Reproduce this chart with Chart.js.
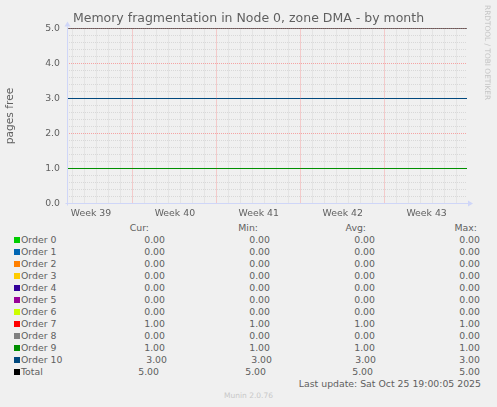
<!DOCTYPE html>
<html>
<head>
<meta charset="utf-8">
<script src="https://cdn.jsdelivr.net/npm/chart.js@4.4.0/dist/chart.umd.min.js"></script>
<style>
body { margin: 0; background: #f0f0f0; font-family: 'DejaVu Sans', sans-serif; color: #666; }
#wrap { position: relative; width: 497px; height: 407px; overflow: hidden; }
#myChart { position: absolute; left: 0; top: 0; }
.t { position: absolute; font-size: 9.33px; line-height: 12px; white-space: nowrap; color: #606060; }
.sw { position: absolute; width: 6px; height: 6px; }
#rrd { position: absolute; left: 483px; top: 5px; font-size: 7.4px; color: #c4c4c4; white-space: nowrap; transform-origin: 0 0; transform: translate(9px, 0) rotate(90deg); }
#munin { position: absolute; left: 0; width: 497px; top: 391px; text-align: center; font-size: 7.5px; color: #c8c8c8; }
</style>
</head>
<body>
<div id="wrap">
  <canvas id="myChart" width="497" height="220"></canvas>
  <div id="rrd">RRDTOOL / TOBI OETIKER</div>
  <div id="legend"></div>
  <div id="munin">Munin 2.0.76</div>
</div>
<script>
'use strict';

// x axis is in days, day 0 = start of week 40
let xMin = -5.5;
let xMax = 27.87;
let sampleDays = [-5.5, 0, 7, 14, 21, 27.87];

let weekLabels = ['Week 39', 'Week 40', 'Week 41', 'Week 42', 'Week 43'];
let weekStarts = [-7, 0, 7, 14, 21];

let yTickLabels = ['0.0', '1.0', '2.0', '3.0', '4.0', '5.0'];

let orderNames = ['Order 0', 'Order 1', 'Order 2', 'Order 3', 'Order 4', 'Order 5',
  'Order 6', 'Order 7', 'Order 8', 'Order 9', 'Order 10'];
let orderColors = ['#00CC00', '#0066B3', '#FF8000', '#FFCC00', '#330099', '#990099',
  '#CCFF00', '#FF0000', '#808080', '#008F00', '#00487D'];

let order0 = [0, 0, 0, 0, 0, 0];
let order1 = [0, 0, 0, 0, 0, 0];
let order2 = [0, 0, 0, 0, 0, 0];
let order3 = [0, 0, 0, 0, 0, 0];
let order4 = [0, 0, 0, 0, 0, 0];
let order5 = [0, 0, 0, 0, 0, 0];
let order6 = [0, 0, 0, 0, 0, 0];
let order7 = [1, 1, 1, 1, 1, 1];
let order8 = [0, 0, 0, 0, 0, 0];
let order9 = [1, 1, 1, 1, 1, 1];
let order10 = [3, 3, 3, 3, 3, 3];
let totalValues = [5, 5, 5, 5, 5, 5];

let orderSeries = [order0, order1, order2, order3, order4, order5, order6, order7, order8, order9, order10];

let lastUpdate = 'Last update: Sat Oct 25 19:00:05 2025';

function isWhole(v){
  return Math.abs(v - Math.round(v)) < 1e-6;
}

function toPoints(values){
  let pts = [];
  for (let i = 0; i < values.length; i++) {
    pts.push({x: sampleDays[i], y: values[i]});
  }
  return pts;
}

let datasets = [];
for (let i = 0; i < orderNames.length; i++) {
  datasets.push({
    label: orderNames[i],
    data: toPoints(orderSeries[i]),
    borderColor: orderColors[i],
    borderWidth: 1,
    pointRadius: 0,
    order: 100 - i
  });
}
datasets.push({
  label: 'Total',
  data: toPoints(totalValues),
  borderColor: '#000000',
  borderWidth: 1,
  pointRadius: 0,
  order: 0
});

// axis lines + arrows, drawn over the lines like rrdtool does
let axisPlugin = {
  id: 'axisArrows',
  afterDatasetsDraw(chart){
    let c = chart.ctx;
    let a = chart.chartArea;
    let l = Math.floor(a.left) + 0.5;
    let b = Math.floor(a.bottom) + 0.5;
    c.save();
    c.strokeStyle = '#CFD6F8';
    c.fillStyle = '#CFD6F8';
    c.lineWidth = 1;
    c.beginPath();
    c.moveTo(l, a.top - 2);
    c.lineTo(l, b + 2);
    c.moveTo(l - 2, b);
    c.lineTo(a.right + 2, b);
    c.stroke();
    c.beginPath();
    c.moveTo(l - 3, a.top - 2);
    c.lineTo(l + 3, a.top - 2);
    c.lineTo(l, a.top - 7);
    c.closePath();
    c.fill();
    c.beginPath();
    c.moveTo(a.right + 1, b - 3);
    c.lineTo(a.right + 1, b + 3);
    c.lineTo(a.right + 6, b);
    c.closePath();
    c.fill();
    c.restore();
  }
};

let ctx = document.getElementById('myChart').getContext('2d');

let minorGrid = '#d8d8d8';
let majorGrid = '#f5a3a3';

let myChartObj = {
  type: 'line',
  data: { datasets: datasets },
  options: {
    responsive: false,
    animation: false,
    devicePixelRatio: 1,
    layout: { padding: 0 },
    plugins: {
      legend: { display: false },
      tooltip: { enabled: false },
      title: {
        display: true,
        text: 'Memory fragmentation in Node 0, zone DMA - by month',
        color: '#5f5f5f',
        font: { family: 'DejaVu Sans', size: 12.5, lineHeight: 1.2, weight: 'normal' },
        padding: { top: 11.5, bottom: 2 }
      }
    },
    scales: {
      x: {
        type: 'linear',
        min: xMin,
        max: xMax,
        afterFit: function(s){ s.height = 16.5; },
        afterBuildTicks: function(s){
          let ticks = [];
          for (let d = Math.ceil(xMin); d <= Math.floor(xMax); d++) {
            ticks.push({value: d});
          }
          for (let i = 0; i < weekStarts.length; i++) {
            let mid = weekStarts[i] + 3.5;
            if (mid > xMin && mid < xMax) ticks.push({value: mid});
          }
          ticks.sort(function(p, q){ return p.value - q.value; });
          s.ticks = ticks;
        },
        border: { display: false, dash: [1, 1] },
        grid: {
          drawTicks: false,
          lineWidth: 1,
          color: function(c){
            let v = c.tick ? c.tick.value : 0.5;
            if (!isWhole(v)) return 'rgba(0,0,0,0)';
            if (Math.round(v) % 7 === 0) return majorGrid;
            return minorGrid;
          }
        },
        ticks: {
          autoSkip: false,
          maxRotation: 0,
          padding: 4,
          color: '#5f5f5f',
          font: { family: 'DejaVu Sans', size: 9.33 },
          callback: function(v){
            for (let i = 0; i < weekStarts.length; i++) {
              if (Math.abs(weekStarts[i] + 3.5 - v) < 1e-6) return weekLabels[i];
            }
            return '';
          }
        }
      },
      y: {
        min: 0,
        max: 5,
        afterFit: function(s){ s.width = 67; },
        afterBuildTicks: function(s){
          let ticks = [];
          for (let k = 0; k <= 25; k++) ticks.push({value: k / 5});
          s.ticks = ticks;
        },
        border: { display: false, dash: [1, 1] },
        grid: {
          drawTicks: false,
          lineWidth: 1,
          color: function(c){
            let v = c.tick ? c.tick.value : 0;
            return isWhole(v) ? majorGrid : minorGrid;
          }
        },
        ticks: {
          autoSkip: false,
          padding: 7,
          color: '#5f5f5f',
          font: { family: 'DejaVu Sans', size: 9.33 },
          callback: function(v){
            return isWhole(v) ? yTickLabels[Math.round(v)] : '';
          }
        },
        title: {
          display: true,
          text: 'pages free',
          color: '#5f5f5f',
          font: { family: 'DejaVu Sans', size: 10.67 },
          padding: { top: 4, bottom: 0 }
        }
      },
      // empty space on the right (keeps the title centred on the whole image)
      yRight: {
        position: 'right',
        min: 0,
        max: 1,
        afterFit: function(s){ s.width = 30; },
        border: { display: false },
        grid: { display: false, drawTicks: false },
        ticks: { display: false }
      }
    }
  },
  plugins: [axisPlugin]
};
const myChart = new Chart(ctx, myChartObj);

// legend table under the graph
let legend = document.getElementById('legend');

function addText(txt, x, yMid, alignRight){
  let el = document.createElement('div');
  el.className = 't';
  el.textContent = txt;
  el.style.top = (yMid - 6) + 'px';
  if (alignRight) {
    el.style.right = (497 - x) + 'px';
  } else {
    el.style.left = x + 'px';
  }
  legend.appendChild(el);
}

function stats(values){
  let min = Math.min.apply(null, values);
  let max = Math.max.apply(null, values);
  let sum = 0;
  for (let i = 0; i < values.length; i++) sum += values[i];
  return [values[values.length - 1], min, sum / values.length, max];
}

let colRight = [165, 270, 375, 480];
addText('Cur:', 149, 228, true);
addText('Min:', 258, 228, true);
addText('Avg:', 366, 228, true);
addText('Max:', 477, 228, true);

let rowNames = orderNames.concat(['Total']);
let rowSeries = orderSeries.concat([totalValues]);
let rowColors = orderColors.concat(['#000000']);
// rrdtool pads the last rows a little differently
let rowShift = { 'Order 10': [2, 2, 1, 0], 'Total': [-6, -4, -2, 0] };

for (let i = 0; i < rowNames.length; i++) {
  let y = 240 + i * 12;
  let sw = document.createElement('div');
  sw.className = 'sw';
  sw.style.left = '14px';
  sw.style.top = (y - 3) + 'px';
  sw.style.background = rowColors[i];
  legend.appendChild(sw);
  addText(rowNames[i], 21, y, false);
  let st = stats(rowSeries[i]);
  let shift = rowShift[rowNames[i]] || [0, 0, 0, 0];
  for (let j = 0; j < 4; j++) {
    addText(st[j].toFixed(2), colRight[j] + shift[j], y, true);
  }
}
addText(lastUpdate, 481, 384, true);
</script>
</body>
</html>
